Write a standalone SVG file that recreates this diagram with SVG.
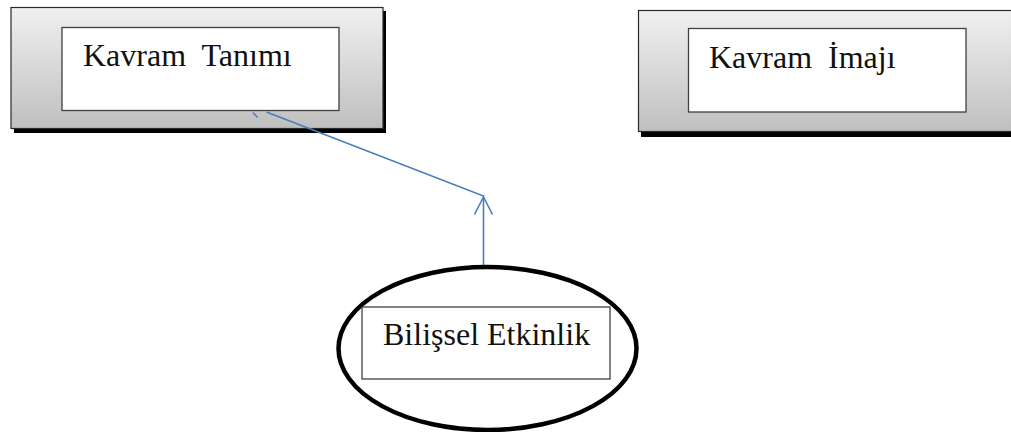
<svg xmlns="http://www.w3.org/2000/svg" width="1011" height="432" viewBox="0 0 1011 432">
  <defs>
    <linearGradient id="panelFill" x1="0" y1="0" x2="0" y2="1">
      <stop offset="0" stop-color="#f0f0f0"/>
      <stop offset="1" stop-color="#bfbfbf"/>
    </linearGradient>
  </defs>
  <style>
    .shadow { fill: #000; }
    .panel { fill: url(#panelFill); stroke: #2a2a2a; stroke-width: 1.2; }
    .label-box { fill: #fff; stroke: #404040; stroke-width: 1.3; }
    .label { font-family: "Liberation Serif", "Times New Roman", serif; font-size: 32px; fill: #111; white-space: pre; }
    .link { fill: none; stroke: #4a7ebb; stroke-width: 1.6; }
  </style>
  <rect width="1011" height="432" fill="#fff"/>

  <g id="kavram-tanimi">
    <rect class="shadow" x="14" y="11" width="372" height="122"/>
    <rect class="panel" x="11" y="7.5" width="372" height="121"/>
    <rect class="label-box" x="62" y="27.5" width="277" height="83"/>
    <text class="label" x="83" y="66" xml:space="preserve">Kavram  Tanımı</text>
  </g>

  <g id="kavram-imaji">
    <rect class="shadow" x="641" y="14" width="380" height="123"/>
    <rect class="panel" x="638.5" y="10.5" width="380" height="121"/>
    <rect class="label-box" x="688.5" y="28.5" width="277.5" height="83.5"/>
    <text class="label" x="709" y="68" xml:space="preserve">Kavram  İmajı</text>
  </g>

  <g id="connectors">
    <path class="link" d="M483.5,265 L483.5,196 L266.5,112"/>
    <path class="link" d="M474.5,214.5 L483.5,197 L492.5,214.5"/>
    <path class="link" d="M253,112.5 L257.5,117.5"/>
  </g>

  <g id="bilissel-etkinlik">
    <ellipse cx="487.5" cy="348.5" rx="149" ry="81.5" fill="none" stroke="#000" stroke-width="4.5"/>
    <rect class="label-box" x="362" y="307" width="248" height="72" stroke="#222"/>
    <text class="label" x="383" y="345">Bilişsel Etkinlik</text>
  </g>
</svg>
